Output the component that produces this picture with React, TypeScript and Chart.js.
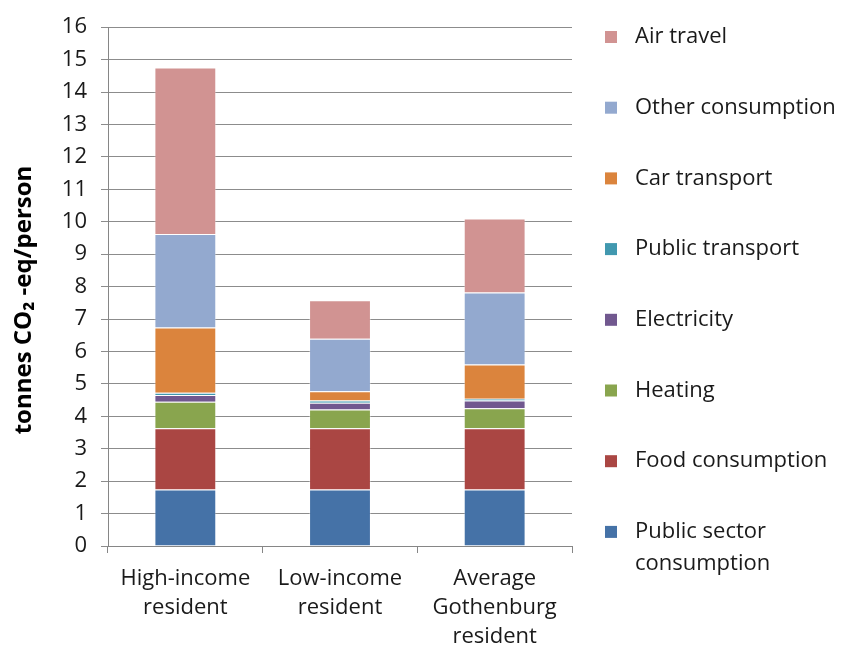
import React, { useEffect, useRef } from "react";
import { Chart, registerables } from "chart.js";

Chart.register(...registerables);

const categories = [
  ["High-income", "resident"],
  ["Low-income", "resident"],
  ["Average", "Gothenburg", "resident"],
];

const publicSector = [1.74, 1.74, 1.74];
const food = [1.89, 1.89, 1.89];
const heating = [0.82, 0.58, 0.62];
const electricity = [0.21, 0.21, 0.24];
const publicTransport = [0.07, 0.07, 0.05];
const carTransport = [2.01, 0.28, 1.06];
const otherConsumption = [2.88, 1.62, 2.22];
const airTravel = [5.14, 1.19, 2.28];

const seriesNames = [
  "Public sector consumption",
  "Food consumption",
  "Heating",
  "Electricity",
  "Public transport",
  "Car transport",
  "Other consumption",
  "Air travel",
];
const legendLines = [
  ["Public sector", "consumption"],
  ["Food consumption"],
  ["Heating"],
  ["Electricity"],
  ["Public transport"],
  ["Car transport"],
  ["Other consumption"],
  ["Air travel"],
];
const seriesColors = [
  "#4572A7",
  "#AA4643",
  "#89A54E",
  "#71588F",
  "#4198AF",
  "#DB843D",
  "#93A9CF",
  "#D19392",
];
const seriesValues = [
  publicSector,
  food,
  heating,
  electricity,
  publicTransport,
  carTransport,
  otherConsumption,
  airTravel,
];

const yTitle = "tonnes CO₂ -eq/person";
const yMin = 0;
const yMax = 16;
const yStep = 1;

const FONT = "'Open Sans', 'Noto Sans', sans-serif";

const legendPlugin = {
  id: "sideLegend",
  afterDraw(chart: any) {
    const ctx = chart.ctx;
    const n = chart.data.datasets.length;
    const startY = 37;
    const stepY = 70.7;
    const boxX = 605;
    const textX = 635;
    ctx.save();
    ctx.font = `22px ${FONT}`;
    ctx.textBaseline = "middle";
    ctx.textAlign = "left";
    for (let i = 0; i < n; i++) {
      const dsIndex = n - 1 - i;
      const ds = chart.data.datasets[dsIndex];
      const y = startY + i * stepY;
      ctx.fillStyle = ds.backgroundColor;
      ctx.fillRect(boxX, y - 6, 12, 12);
      ctx.fillStyle = "#1a1a1a";
      const lines = legendLines[dsIndex];
      lines.forEach((ln: string, k: number) => {
        ctx.fillText(ln, textX, y + k * 32);
      });
    }
    // y-axis title
    ctx.translate(24, 300);
    ctx.rotate(-Math.PI / 2);
    ctx.font = `bold 24px ${FONT}`;
    ctx.textAlign = "center";
    ctx.fillStyle = "#000";
    ctx.fillText(yTitle, 0, 0);
    ctx.restore();
  },
};

export default function App() {
  const ref = useRef<HTMLCanvasElement | null>(null);
  useEffect(() => {
    if (!ref.current) return;
    const chart = new Chart(ref.current, {
      type: "bar",
      data: {
        labels: categories,
        datasets: seriesValues.map((vals, i) => ({
          label: seriesNames[i],
          data: vals,
          backgroundColor: seriesColors[i],
          borderColor: "rgba(255,255,255,0.35)",
          borderWidth: 1,
          barPercentage: 0.4,
          categoryPercentage: 1,
        })),
      },
      options: {
        responsive: false,
        animation: false,
        layout: { padding: { top: 26, right: 274, left: 0, bottom: 0 } },
        plugins: {
          legend: { display: false },
          tooltip: { enabled: false },
        },
        scales: {
          x: {
            stacked: true,
            grid: {
              drawOnChartArea: false,
              drawTicks: true,
              tickLength: 7,
              color: "#868686",
            },
            border: { color: "#868686" },
            ticks: {
              color: "#1a1a1a",
              padding: 11,
              maxRotation: 0,
              font: { family: FONT, size: 22, lineHeight: 1.33 },
            },
            afterFit(scale: any) {
              scale.height = 109;
            },
          },
          y: {
            stacked: true,
            min: yMin,
            max: yMax,
            ticks: {
              stepSize: yStep,
              color: "#1a1a1a",
              padding: 14,
              font: { family: FONT, size: 22 },
            },
            grid: { color: "#8c8c8c", tickLength: 7 },
            border: { color: "#868686" },
            title: { display: false },
            afterFit(scale: any) {
              scale.width = 108;
            },
          },
        },
      },
      plugins: [legendPlugin],
    });
    return () => chart.destroy();
  }, []);
  return (
    <div style={{ position: "absolute", left: 0, top: 0, width: 846, height: 655, background: "#fff" }}>
      <canvas ref={ref} width={846} height={655} style={{ width: 846, height: 655 }} />
    </div>
  );
}
